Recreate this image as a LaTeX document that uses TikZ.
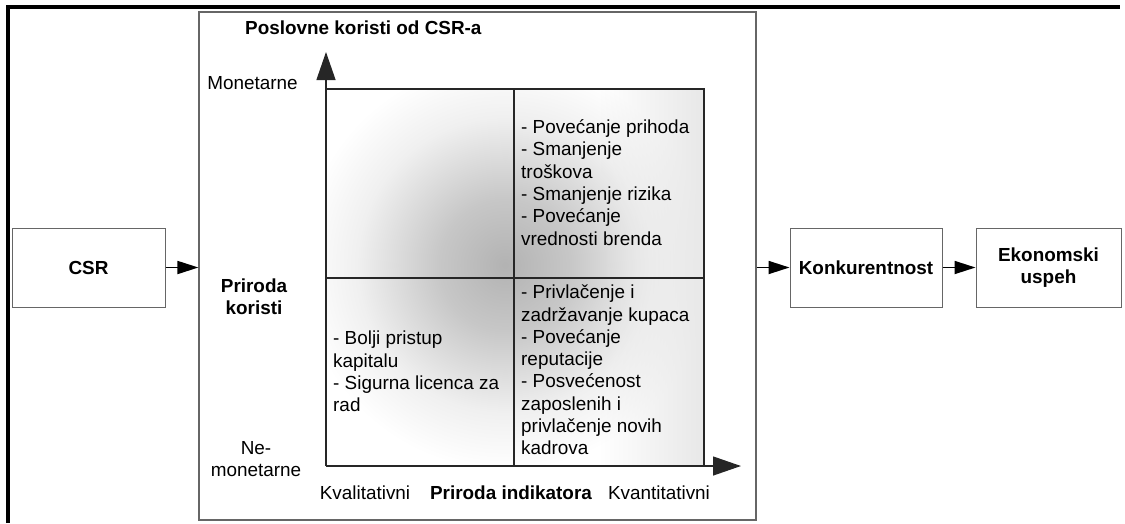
\documentclass[tikz,border=0pt]{standalone}
\usepackage{fontspec}
\setmainfont{Liberation Sans}
\usetikzlibrary{arrows.meta,fadings}

% soft grey glow around the crossing of the matrix
\pgfdeclareradialshading{quadfade}{\pgfpoint{0bp}{0bp}}{%
  color(0bp)=(black!30); color(8bp)=(black!22); color(18bp)=(black!6); color(25bp)=(white); color(50bp)=(white)}

\begin{document}
\begin{tikzpicture}[x=1pt,y=-1pt,
  lbl/.style={inner sep=0pt, font=\fontsize{18.9}{22.3}\selectfont},
  boldlbl/.style={inner sep=0pt, font=\fontsize{18.9}{22.3}\selectfont\bfseries},
  flowbox/.style={draw=black!60, line width=1pt, inner sep=0pt,
    font=\fontsize{18.9}{22.3}\selectfont\bfseries, align=center,
    minimum height=79pt},
  gridline/.style={draw=black!85, line width=1.3pt},
  axis/.style={gridline, -{Triangle[length=28pt,width=19pt]}},
  flow/.style={line width=1.8pt, -{Triangle[length=21pt,width=13pt]}},
]
\useasboundingbox (0,0) rectangle (1125,523);

% heavy outer frame (left and top edges)
\draw[line width=4pt] (8,523) -- (8,6.5) -- (1120,6.5);

% central panel
\node[draw=black!60, line width=1.2pt, minimum width=557pt, minimum height=508pt,
      inner sep=0pt] (panel) at (477.5,266) {};

% matrix corners and midpoints
\coordinate (gtl) at (326,89);
\coordinate (gtr) at (704,89);
\coordinate (gbl) at (326,466);
\coordinate (gbr) at (704,466);
\coordinate (gtm) at (514,89);
\coordinate (gbm) at (514,466);
\coordinate (gml) at (326,278);
\coordinate (gmr) at (704,278);
\coordinate (ytip) at (326,52);
\coordinate (xtip) at (741,466);

% shading of the quadrants
\begin{scope}
  \clip (gtl) rectangle (gbr);
  \shade[shading=quadfade] (300,60) rectangle (710,470);
  \fill[black!9, path fading=west] (600,89) rectangle (704,466);
\end{scope}

% matrix lines and axes
\draw[gridline] (gtl) -- (gtr) -- (gbr);
\draw[gridline] (gtm) -- (gbm);
\draw[gridline] (gml) -- (gmr);
\draw[axis] (gbl) -- (ytip);
\draw[axis] (gbl) -- (xtip);

% panel labels
\node[boldlbl, anchor=base west] (title) at (245,34) {Poslovne koristi od CSR-a};
\node[lbl, anchor=base] (mon) at (252.5,89) {Monetarne};
\node[boldlbl, align=center] (prk) at (254,297) {Priroda\\koristi};
\node[lbl, align=center] (nemon) at (256,459) {Ne-\\monetarne};
\node[lbl, anchor=base] (kval) at (365,499.5) {Kvalitativni};
\node[boldlbl, anchor=base] (pind) at (511,499.5) {Priroda indikatora};
\node[lbl, anchor=base] (kvant) at (659,499.5) {Kvantitativni};

% quadrant contents
\node[lbl, align=left, anchor=west] (qtr) at (521,182.5)
  {- Povećanje prihoda\\- Smanjenje\\troškova\\- Smanjenje rizika\\- Povećanje\\vrednosti brenda};
\node[lbl, align=left, anchor=west] (qbr) at (521,370)
  {- Privlačenje i\\zadržavanje kupaca\\- Povećanje\\reputacije\\- Posvećenost\\zaposlenih i\\privlačenje novih\\kadrova};
\node[lbl, align=left, anchor=west] (qbl) at (333,371.5)
  {- Bolji pristup\\kapitalu\\- Sigurna licenca za\\rad};

% flow boxes
\node[flowbox, minimum width=153pt] (csr) at (88.5,267.5) {CSR};
\node[flowbox, minimum width=152pt] (konk) at (866,267.5) {Konkurentnost};
\node[flowbox, minimum width=145pt] (eko) at (1048.5,267.5) {Ekonomski\\uspeh};

% connectors
\draw[flow] (csr.east) -- (csr.east -| panel.west);
\draw[flow] (konk.west -| panel.east) -- (konk.west);
\draw[flow] (konk.east) -- (eko.west);
\end{tikzpicture}
\end{document}
